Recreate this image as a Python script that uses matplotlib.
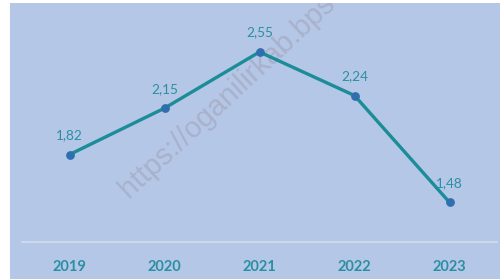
import numpy as np
import matplotlib.pyplot as plt
from matplotlib.patches import Rectangle

years = ['2019', '2020', '2021', '2022', '2023']
values = [1.82, 2.15, 2.55, 2.24, 1.48]
labels = ['1,82', '2,15', '2,55', '2,24', '1,48']

bg = '#b4c7e7'
line_col = '#1b8c98'
dot_col = '#2f6fae'
txt_col = '#2b8fa3'

fig = plt.figure(figsize=(5, 2.79), dpi=100)
fig.patch.set_facecolor('white')

# blue panel behind the chart
panel = Rectangle((10 / 500, 0), 490 / 500, 276 / 279, transform=fig.transFigure,
                  facecolor=bg, edgecolor='none', zorder=-2)
fig.patches.append(panel)

ax = fig.add_axes([22 / 500, 1 - 241.7 / 279, 475 / 500, 0.806])
ax.set_facecolor('none')
ax.set_zorder(2)

x = np.arange(len(years))
ax.plot(x, values, color=line_col, lw=2.4, zorder=3)
ax.scatter(x, values, s=28, color=dot_col, zorder=4)

for xi, v, lab in zip(x, values, labels):
    ax.annotate(lab, (xi, v), xytext=(0, 14), textcoords='offset points',
                ha='center', va='center', color=txt_col, fontsize=9.8,
                family='Lato')

ax.set_xlim(-0.5, 4.5)
ax.set_ylim(1.2, 2.8)
ax.set_yticks([])
ax.set_xticks(x)
ax.set_xticklabels(years, fontsize=10.5, fontweight='bold', color=txt_col, family='Lato')
ax.tick_params(axis='x', length=0, pad=13)
for s in ['top', 'right', 'left']:
    ax.spines[s].set_visible(False)
ax.spines['bottom'].set_color('#d3deef')
ax.spines['bottom'].set_linewidth(1.2)

# watermark (runs off the top of the panel, as in the original)
wm = fig.text(129 / 500, 1 - 199 / 279, 'https://oganilirkab.bps', rotation=43,
              rotation_mode='anchor', ha='left', va='baseline', fontsize=21,
              color='#a9b1cb', family='Liberation Sans', zorder=-1)
wm.set_clip_path(panel)

fig.savefig('out.png', dpi=100, facecolor=fig.get_facecolor())
